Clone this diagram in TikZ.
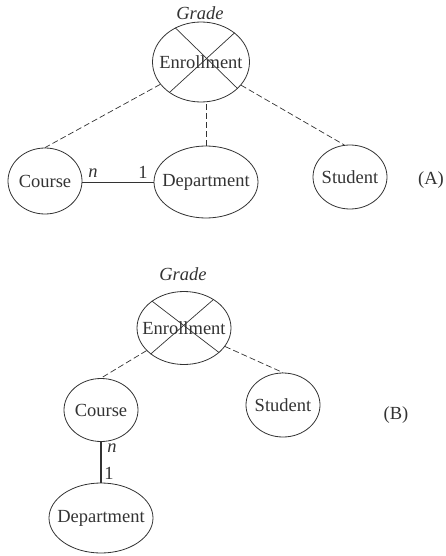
\documentclass[tikz,border=0pt]{standalone}
\usepackage{fontspec}
\setmainfont{Liberation Serif}
\usetikzlibrary{shapes.geometric}
\newcommand{\ename}[1]{\makebox[0pt]{#1}}
\begin{document}
\begin{tikzpicture}[x=1pt,y=-1pt,font=\fontsize{18.5}{20}\selectfont,black!80]

     \tikzstyle{entity}=[ellipse,draw,line width=0.8pt,inner sep=0pt]
     \tikzstyle{rel}=[line width=0.7pt,dash pattern=on 6pt off 3pt]
     \tikzstyle{card}=[inner sep=0pt]

     \useasboundingbox (0,0) rectangle (445,556);

      \begin{scope}
         % (A)
         \node (g1) at (200,13) {\textit{Grade}};
         \node[entity,minimum width=97,minimum height=80] (e1) at (201,62) {\ename{Enrollment}};
         \node[entity,minimum width=74,minimum height=66] (c1) at (45,181) {\ename{Course}};
         \node[entity,minimum width=104,minimum height=72] (d1) at (206,182) {\ename{Department}};
         \node[entity,minimum width=74,minimum height=64] (s1) at (350,177) {\ename{Student}};
         \node (a) at (431,180) {(A)};

         \draw[line width=0.7pt] (e1.127) -- (e1.-36);
         \draw[line width=0.7pt] (e1.41) -- (e1.224);

         \draw[rel] (e1) to (c1.north);
         \draw[rel] (d1.north) to (d1.north |- e1.south);
         \draw[rel] (e1) to (s1.100);

         \draw[line width=0.8pt] (c1.east |- 0,182) to (d1.west |- 0,182);
         \node[card] (n1) at (93,173) {\textit{n}};
         \node[card] (o1) at (143,172) {1};

         % (B)
         \node (g2) at (183,274) {\textit{Grade}};
         \node[entity,minimum width=94,minimum height=73] (e2) at (184,328) {\ename{Enrollment}};
         \node[entity,minimum width=74,minimum height=63] (c2) at (101,410) {\ename{Course}};
         \node[entity,minimum width=74,minimum height=64] (s2) at (283,405) {\ename{Student}};
         \node[entity,minimum width=104,minimum height=70] (d2) at (101,518) {\ename{Department}};
         \node (b) at (396,415) {(B)};

         \draw[line width=0.7pt] (e2.140) -- (e2.-35);
         \draw[line width=0.7pt] (e2.44) -- (e2.218);

         \draw[rel] (e2) to (c2.north);
         \draw[rel] (e2) to (s2.north);

         \draw[line width=2.2pt] (c2) to (d2);
         \node[card] (n2) at (112,448) {\textit{n}};
         \node[card] (o2) at (109,473) {1};

      \end{scope}
  \end{tikzpicture}
\end{document}
